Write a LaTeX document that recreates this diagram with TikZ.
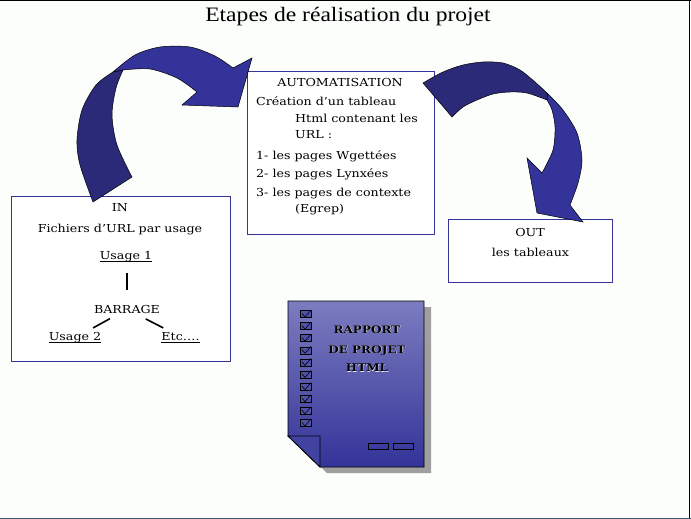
\documentclass[tikz,border=0pt]{standalone}
\usepackage{fontspec}
\setmainfont{DejaVu Serif}[FakeStretch=1.15]
\newfontfamily\titlefont{Liberation Serif}[FakeStretch=1.15]
\usetikzlibrary{calc}
\definecolor{arrowblue}{RGB}{51,51,153}
\definecolor{arrowdark}{RGB}{43,42,120}
\definecolor{doctop}{RGB}{124,124,192}
\definecolor{pagebg}{RGB}{251,254,251}
\definecolor{frameline}{RGB}{60,88,118}
\def\checkbox(#1,#2){\draw[line width=0.5pt, fill=arrowblue!60!doctop] (#1,#2) rectangle ++(11,7); \draw[line width=0.6pt] (#1+2,#2+3) -- (#1+5,#2+6.5) -- (#1+11,#2-0.5);}

\begin{document}
\begin{tikzpicture}[x=1pt, y=-1pt,
	boxline/.style={draw=arrowblue, line width=0.8pt, fill=white},
	txt/.style={inner sep=0pt, font=\fontsize{11}{13}\selectfont},
	doctxt/.style={inner sep=0pt, anchor=base, font=\fontsize{10.5}{12}\selectfont\bfseries},
	link/.style={line width=1.6pt},
	band/.style={draw=black, line width=0.5pt}]
			%%%%% START %%%%%
			
			\useasboundingbox (0,0) rectangle (691,519);
			\fill[pagebg] (0,0) rectangle (691,519);
			\draw[line width=1pt] (0,0.5) -- (691,0.5);
			\draw[line width=1.5pt] (689.6,0) -- (689.6,519);
			\draw[frameline, line width=1pt] (0,518.5) -- (691,518.5);
			
			\node[font=\titlefont\fontsize{20.5}{24}\selectfont, anchor=base, inner sep=0pt] (title) at (348,21.5) {Etapes de réalisation du projet};
			
			% boxes
			\draw[boxline] (11,196) rectangle (230,361);
			\draw[boxline] (247,71) rectangle (434,234);
			\draw[boxline] (448,219) rectangle (612,282);
			
			% IN
			\node[txt, anchor=base] (in) at (120,211.7) {IN};
			\node[txt, anchor=base] (files) at (120,232.7) {Fichiers d’URL par usage};
			\node[txt, anchor=base] (u1) at (126,259) {Usage 1};
			\node[txt, anchor=base] (barrage) at (127,313.3) {BARRAGE};
			\node[txt, anchor=base] (u2) at (75,340.7) {Usage 2};
			\node[txt, anchor=base] (etc) at (180.5,340.7) {Etc….};
			\foreach \n in {u1,u2,etc}
				\draw[line width=0.7pt] ([yshift=-2pt]\n.base west) -- ([yshift=-2pt]\n.base east);
			\draw[link, shorten <=11pt, shorten >=15pt] (u1.south -| barrage.north) -- (barrage.north);
			\draw[link, shorten <=19.5pt, shorten >=20.6pt] (barrage.center) -- (u2.center);
			\draw[link, shorten <=21pt, shorten >=19.4pt] (barrage.center) -- (etc.center);
			
			% AUTOMATISATION
			\node[txt, anchor=base] (auto) at (340,86) {AUTOMATISATION};
			\foreach \x/\y/\t [count=\i] in {256/105.7/{Création d’un tableau}, 295/122/{Html contenant les}, 295/139/{URL :}, 256/159/{1- les pages Wgettées}, 256/177/{2- les pages Lynxées}, 256/196/{3- les pages de contexte}, 295/212/{(Egrep)}}
				\node[txt, anchor=base west] (auto\i) at (\x,\y) {\t};
			
			% OUT
			\node[txt, anchor=base] (out) at (530,236) {OUT};
			\node[txt, anchor=base] (tables) at (530.5,256) {les tableaux};
			
			% left arrow
			\filldraw[band, fill=arrowblue] plot[smooth] coordinates {(113,72) (135,55) (160,47) (190,47) (215,56) (233,68)} -- (252,58) -- (238,107) -- (182,105) -- plot[smooth] coordinates {(197,92) (177,78) (150,69) (123,70)} -- cycle;
			\filldraw[band, fill=arrowdark] plot[smooth] coordinates {(93,202) (80,165) (77,140) (82,110) (96,85) (113,72)} -- plot[smooth] coordinates {(123,70) (116,88) (112,115) (117,145) (132,177)} -- cycle;
			
			% right arrow
			\filldraw[band, fill=arrowblue] plot[smooth] coordinates {(547,93) (563,110) (577,133) (582,160) (578,183) (570,205)} -- (583,222) -- (537,213) -- (527,158) -- plot[smooth] coordinates {(542,173) (553,150) (555,127) (552,110) (547,100)} -- cycle;
			\filldraw[band, fill=arrowdark] plot[smooth] coordinates {(423,83) (443,72) (463,65) (483,62) (503,63) (520,70) (535,82) (547,93)} -- plot[smooth] coordinates {(547,100) (527,93) (510,92) (493,94) (477,100) (463,107) (452,117)} -- cycle;
			
			% report
			\fill[gray!75] (295,307) -- (431,307) -- (431,473) -- (327,473) -- (295,442) -- cycle;
			\shadedraw[top color=doctop, bottom color=arrowblue, draw=black, line width=0.8pt] (288,301) -- (424,301) -- (424,467) -- (320,467) -- (288,436) -- cycle;
			\filldraw[fill=arrowblue!80!doctop, line width=0.8pt] (288,436) -- (320,436) -- (320,467) -- cycle;
			\foreach \k [evaluate=\k as \cy using 310.5+12.1*\k] in {0,...,9}
				\checkbox(300,\cy)
			\draw[line width=0.6pt] (368,443) rectangle (388,449);
			\draw[line width=0.6pt] (393,443) rectangle (413,449);
			\foreach \y/\t [count=\i] in {333.3/RAPPORT, 353.3/DE PROJET, 371.7/HTML} {
				\node[doctxt, white!85!doctop] (rep\i s) at (367.5,\y+0.5) {\t};
				\node[doctxt] (rep\i) at (367,\y) {\t};
			}
			
			%%%%% END %%%%%
\end{tikzpicture}
\end{document}
